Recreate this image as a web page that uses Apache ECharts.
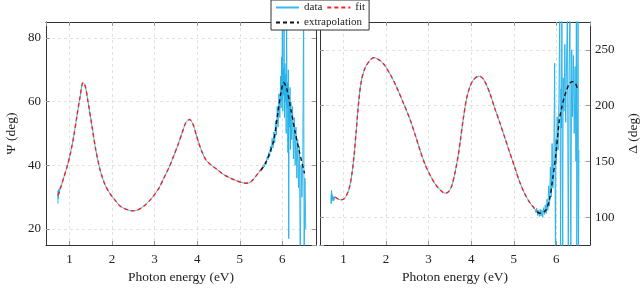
<!DOCTYPE html>
<html><head><meta charset="utf-8">
<script src="https://cdn.jsdelivr.net/npm/echarts@6/dist/echarts.min.js"></script>
<style>html,body{margin:0;padding:0;background:#fff}#c{width:644px;height:290px}</style>
</head><body><div id="c"></div><script>
// ---- Psi panel (left) ----
const psiStartE = [0.73,0.732,0.74,0.75,0.76,0.77,0.78,0.8];
const psiStartV = [28,32,29.5,32.5,31,32.8,32.6,33.3];
const psiFitE = [0.73,0.8,0.87,0.95,1.02,1.1,1.18,1.25,1.32,1.37,1.43,1.53,1.62,1.72,1.84,1.96,2.1,2.19,2.35,2.49,2.62,2.74,2.86,2.97,3.1,3.21,3.34,3.45,3.55,3.65,3.73,3.82,3.9,3.97,4.04,4.12,4.21,4.32,4.45,4.6,4.75,4.9,5.05,5.15,5.25,5.36,5.46,5.55];
const psiFitV = [30.5,33.3,36.3,39.8,43.6,49,55.8,61.5,66.0,65.0,60.5,52.3,44.8,38.6,33.8,31.0,28.6,27.2,26.1,25.7,26.1,27.1,28.6,30.3,32.8,35.8,39.4,43.0,46.5,50.3,53.3,54.4,53.0,50.0,46.9,44.0,41.6,40.2,38.9,37.3,36.2,35.3,34.6,34.4,34.7,36.3,38.0,39.5];
const psiTailE = [5.50,5.52,5.54,5.56,5.58,5.60,5.62,5.64,5.66,5.68,5.70,5.72,5.74,5.76,5.78,5.80,5.82,5.84,5.86,5.88,5.90,5.92,5.94,5.96,5.97,5.98,5.99,6.00,6.01,6.02,6.03,6.04,6.05,6.06,6.07,6.08,6.09,6.10,6.11,6.12,6.13,6.14,6.15,6.16,6.17,6.18,6.19,6.20,6.22,6.24,6.26,6.28,6.30,6.32,6.34,6.36,6.38,6.40,6.42,6.44,6.46,6.48,6.50,6.51,6.53,6.55];
const psiTailV = [38.3,39.2,38.6,40.2,39.5,41.2,40.3,42.5,41.8,44.0,42.6,46.0,44.2,48.5,45.5,50.5,47.0,54.0,49.5,58.5,52.0,62.5,55.0,68.0,58.0,74.0,60.5,88.0,57.0,70.5,62.0,92.0,55.0,72.0,60.0,68.5,50.0,90.0,58.0,66.0,44.0,70.0,17.0,62.0,52.0,64.5,45.0,60.0,48.0,58.5,42.0,55.0,40.0,52.0,36.0,48.0,33.0,46.0,10.0,40.0,30.0,42.0,95.0,5.0,36.0,20.0];
const psiExtE = [5.5,5.6,5.7,5.8,5.9,5.97,6.03,6.1,6.2,6.3,6.4,6.52];
const psiExtV = [38.5,40.6,43.8,48,57,63,66,64.2,57.5,50.5,44.3,37.5];
// ---- Delta panel (right) ----
const delStartE = [0.71,0.712,0.72,0.725,0.73,0.74,0.75,0.76,0.77,0.78,0.79,0.8];
const delStartV = [120,112,124,114,121,116,119,114.5,118,115,118.5,118];
const delFitE = [0.8,0.93,1.02,1.09,1.15,1.2,1.25,1.3,1.36,1.42,1.5,1.6,1.71,1.8,1.94,2.1,2.25,2.4,2.57,2.7,2.8,2.92,3.03,3.15,3.27,3.38,3.46,3.54,3.62,3.69,3.75,3.81,3.89,3.97,4.04,4.12,4.2,4.3,4.43,4.55,4.67,4.8,4.9,5.02,5.14,5.25,5.37,5.48,5.58];
const delFitV = [118,115.5,116.5,121,128,139,155,177,204,222,233,239.5,243,242,237.5,228,216.5,203,187,172,160,147,138,130,124.5,121.5,122.5,127.5,140,154,170,187,206,217,222.5,225.5,226.3,223,212,198,185,170,158.5,145,131.5,121.5,113.5,108,104];
const delTailE = [5.50,5.52,5.54,5.56,5.58,5.60,5.62,5.64,5.66,5.68,5.70,5.72,5.74,5.76,5.78,5.80,5.82,5.84,5.86,5.88,5.90,5.92,5.94,5.96,5.97,5.98,5.99,6.00,6.02,6.04,6.06,6.08,6.09,6.10,6.11,6.12,6.13,6.14,6.15,6.16,6.18,6.20,6.22,6.24,6.26,6.27,6.28,6.30,6.32,6.33,6.34,6.36,6.38,6.40,6.42,6.44,6.46,6.47,6.48,6.50,6.51,6.52,6.53];
const delTailV = [106.5,104.0,108.0,101.5,106.0,100.5,107.0,101.0,106.5,100.0,108.5,102.5,111.0,103.0,116.0,106.0,128.0,110.0,145.0,118.0,166.0,126.0,150.0,238.0,130.0,60.0,170.0,148.0,190.0,160.0,205.0,285.0,170.0,60.0,215.0,180.0,290.0,150.0,60.0,225.0,195.0,255.0,185.0,240.0,290.0,160.0,60.0,230.0,290.0,140.0,60.0,250.0,190.0,245.0,175.0,235.0,150.0,290.0,60.0,200.0,290.0,60.0,160.0];
const delExtE = [5.55,5.62,5.7,5.76,5.84,5.91,5.99,6.07,6.13,6.19,6.25,6.31,6.38,6.44,6.5];
const delExtV = [104.5,103.5,104.5,106.5,116,133,157,187,199,208,215,220,221.5,220.5,215];
// ---- axes ----
const xRange = [0.45, 6.79];
const psiRange = [15, 85];
const delRange = [75, 275];
const xName = 'Photon energy (eV)';
const psiName = 'Ψ (deg)';
const delName = 'Δ (deg)';

const zip = (a, b) => a.map((x, i) => [x, b[i]]);
const FONT = '"Liberation Serif", "DejaVu Serif", serif';
const CYAN = '#22b0ea', RED = '#ff1f1f', BLACK = '#111';
const frame = {show: true, lineStyle: {color: '#333', width: 1}};
const tick = {show: true, inside: true, length: 4, lineStyle: {color: '#999'}};
const grid = {show: true, showMinLine: false, showMaxLine: false, lineStyle: {color: '#e2e2e2', type: [3, 3], width: 1}};
const lbl = (mult, margin) => ({show: true, fontFamily: FONT, fontSize: 13, color: '#222', margin: margin,
  showMinLabel: false, showMaxLabel: false,
  formatter: v => (Math.abs(v / mult - Math.round(v / mult)) < 1e-6 ? String(Math.round(v)) : '')});

function xAx(g, pos, withLabel) {
  return {type: 'value', gridIndex: g, position: pos, min: xRange[0], max: xRange[1], splitNumber: 6,
    axisLine: frame, axisTick: tick, splitLine: withLabel ? grid : {show: false},
    axisLabel: withLabel ? lbl(1, 8) : {show: false},
    name: withLabel ? xName : '', nameLocation: 'middle', nameGap: 24,
    nameTextStyle: {fontFamily: FONT, fontSize: 13.5, color: '#222'}};
}
function yAx(g, pos, rng, split, mult, name, gap, withLabel) {
  return {type: 'value', gridIndex: g, position: pos, min: rng[0], max: rng[1], splitNumber: split,
    axisLine: frame, axisTick: tick, splitLine: withLabel ? grid : {show: false},
    axisLabel: withLabel ? lbl(mult, 5) : {show: false},
    name: withLabel ? name : '', nameLocation: 'middle', nameGap: gap, nameRotate: 90,
    nameTextStyle: {fontFamily: FONT, fontSize: 13.5, color: '#222'}};
}
function line(name, xi, yi, data, color, dashed, smooth, z) {
  return {name: name, type: 'line', xAxisIndex: xi, yAxisIndex: yi, data: data, showSymbol: false, symbol: 'none',
    smooth: smooth, clip: true, z: z, animation: false,
    lineStyle: {color: color, width: dashed ? 1.4 : 1, type: dashed ? [4, 3] : 'solid', opacity: dashed ? 1 : 0.9},
    itemStyle: {color: color}};
}

const chart = echarts.init(document.getElementById('c'), null, {renderer: 'canvas'});
chart.setOption({
  animation: false,
  backgroundColor: '#fff',
  grid: [
    {left: 46, top: 22, width: 270, height: 223},
    {left: 320, top: 22, width: 270, height: 223}
  ],
  xAxis: [xAx(0, 'bottom', true), xAx(1, 'bottom', true), xAx(0, 'top', false), xAx(1, 'top', false)],
  yAxis: [
    yAx(0, 'left', psiRange, 3, 20, psiName, 28, true),
    yAx(1, 'right', delRange, 4, 50, delName, 36, true),
    yAx(0, 'right', psiRange, 3, 20, '', 0, false),
    yAx(1, 'left', delRange, 4, 50, '', 0, false)
  ],
  legend: {
    data: ['data', 'fit', 'extrapolation'], left: 271, top: 0, width: 92,
    backgroundColor: '#fff', borderColor: '#333', borderWidth: 1, borderRadius: 0,
    padding: [2, 4, 2, 4], itemWidth: 23, itemHeight: 9, itemGap: 4,
    itemStyle: {opacity: 0, borderWidth: 0},
    textStyle: {fontFamily: FONT, fontSize: 11, color: '#222', lineHeight: 11}
  },
  series: [
    line('data', 0, 0, zip(psiStartE, psiStartV), CYAN, false, false, 2),
    line('data', 0, 0, zip(psiFitE, psiFitV), CYAN, false, 0.3, 2),
    line('data', 0, 0, zip(psiTailE, psiTailV), CYAN, false, false, 2),
    line('fit', 0, 0, zip(psiFitE, psiFitV), RED, true, 0.3, 3),
    line('extrapolation', 0, 0, zip(psiExtE, psiExtV), BLACK, true, 0.3, 3),
    line('data', 1, 1, zip(delStartE, delStartV), CYAN, false, false, 2),
    line('data', 1, 1, zip(delFitE, delFitV), CYAN, false, 0.3, 2),
    line('data', 1, 1, zip(delTailE, delTailV), CYAN, false, false, 2),
    line('fit', 1, 1, zip(delFitE, delFitV), RED, true, 0.3, 3),
    line('extrapolation', 1, 1, zip(delExtE, delExtV), BLACK, true, 0.3, 3)
  ]
});
</script></body></html>
